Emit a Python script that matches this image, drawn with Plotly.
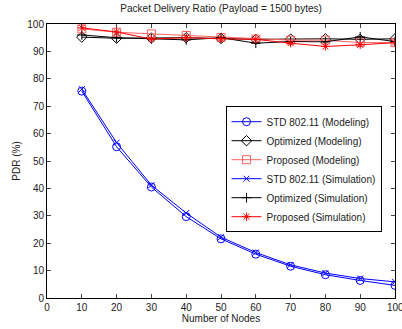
import plotly.graph_objects as go

nodes = [10, 20, 30, 40, 50, 60, 70, 80, 90, 100]
std_model = [75.5, 55.2, 40.5, 29.7, 21.6, 16.0, 11.6, 8.5, 6.4, 4.6]
opt_model = [95.2, 94.8, 94.9, 95.0, 94.7, 94.4, 94.5, 94.6, 94.4, 94.6]
prop_model = [98.2, 97.0, 96.4, 95.8, 95.1, 94.5, 94.1, 94.1, 93.2, 93.2]
std_sim = [76.2, 56.7, 41.2, 31.0, 22.2, 16.6, 12.1, 9.1, 7.1, 5.9]
opt_sim = [96.0, 95.0, 94.6, 94.2, 95.0, 93.0, 93.6, 93.5, 95.3, 93.6]
prop_sim = [98.6, 97.1, 94.5, 95.0, 94.6, 94.4, 93.0, 91.8, 92.4, 93.2]
x_ticks = list(range(0, 101, 10))
y_ticks = list(range(0, 101, 10))

series = [
    ("STD 802.11 (Modeling)", std_model, "#0000ff", "circle-open", 8),
    ("Optimized (Modeling)", opt_model, "#000000", "diamond-open", 8),
    ("Proposed (Modeling)", prop_model, "#ff6060", "square-open", 8),
    ("STD 802.11 (Simulation)", std_sim, "#0000ff", "x-thin-open", 6),
    ("Optimized (Simulation)", opt_sim, "#000000", "cross-thin-open", 7),
    ("Proposed (Simulation)", prop_sim, "#ff0000", "asterisk-open", 7),
]

fig = go.Figure()
for name, vals, color, sym, size in series:
    fig.add_trace(go.Scatter(
        x=nodes, y=vals, name=name, mode="lines+markers",
        line=dict(color=color, width=1),
        marker=dict(symbol=sym, size=size, color=color, line=dict(color=color, width=1)),
    ))

font = dict(family="Liberation Sans, Arial, sans-serif", size=10, color="#222")
fig.update_layout(
    width=402, height=329,
    margin=dict(l=47, r=7, t=24, b=31),
    paper_bgcolor="white", plot_bgcolor="white",
    font=font,
    title=dict(text="Packet Delivery Ratio (Payload = 1500 bytes)", x=0.55, xanchor="center",
               y=0.985, yanchor="top", font=dict(size=10)),
    showlegend=True,
    legend=dict(x=0.513, y=0.70, xanchor="left", yanchor="top",
                bgcolor="white", bordercolor="black", borderwidth=1,
                font=dict(size=10), tracegroupgap=0, itemwidth=30),
    xaxis=dict(range=[0, 100], tickvals=x_ticks, ticks="inside", ticklen=4,
               showline=True, linecolor="black", linewidth=1, mirror="ticks",
               showgrid=False, zeroline=False,
               title=dict(text="Number of Nodes", standoff=2, font=dict(size=10)),
               tickfont=dict(size=10)),
    yaxis=dict(range=[0, 100], tickvals=y_ticks, ticks="inside", ticklen=4,
               showline=True, linecolor="black", linewidth=1, mirror="ticks",
               showgrid=False, zeroline=False,
               title=dict(text="PDR (%)", standoff=4, font=dict(size=10)),
               tickfont=dict(size=10)),
)
# last x tick label (clipped at window edge, as in the reference)
fig.add_annotation(x=x_ticks[-1], xref="x", y=0, yref="paper", yanchor="top", yshift=-2,
                   text=str(x_ticks[-1]), showarrow=False, font=dict(size=10, color="#222"))
fig.write_html("out.html")
